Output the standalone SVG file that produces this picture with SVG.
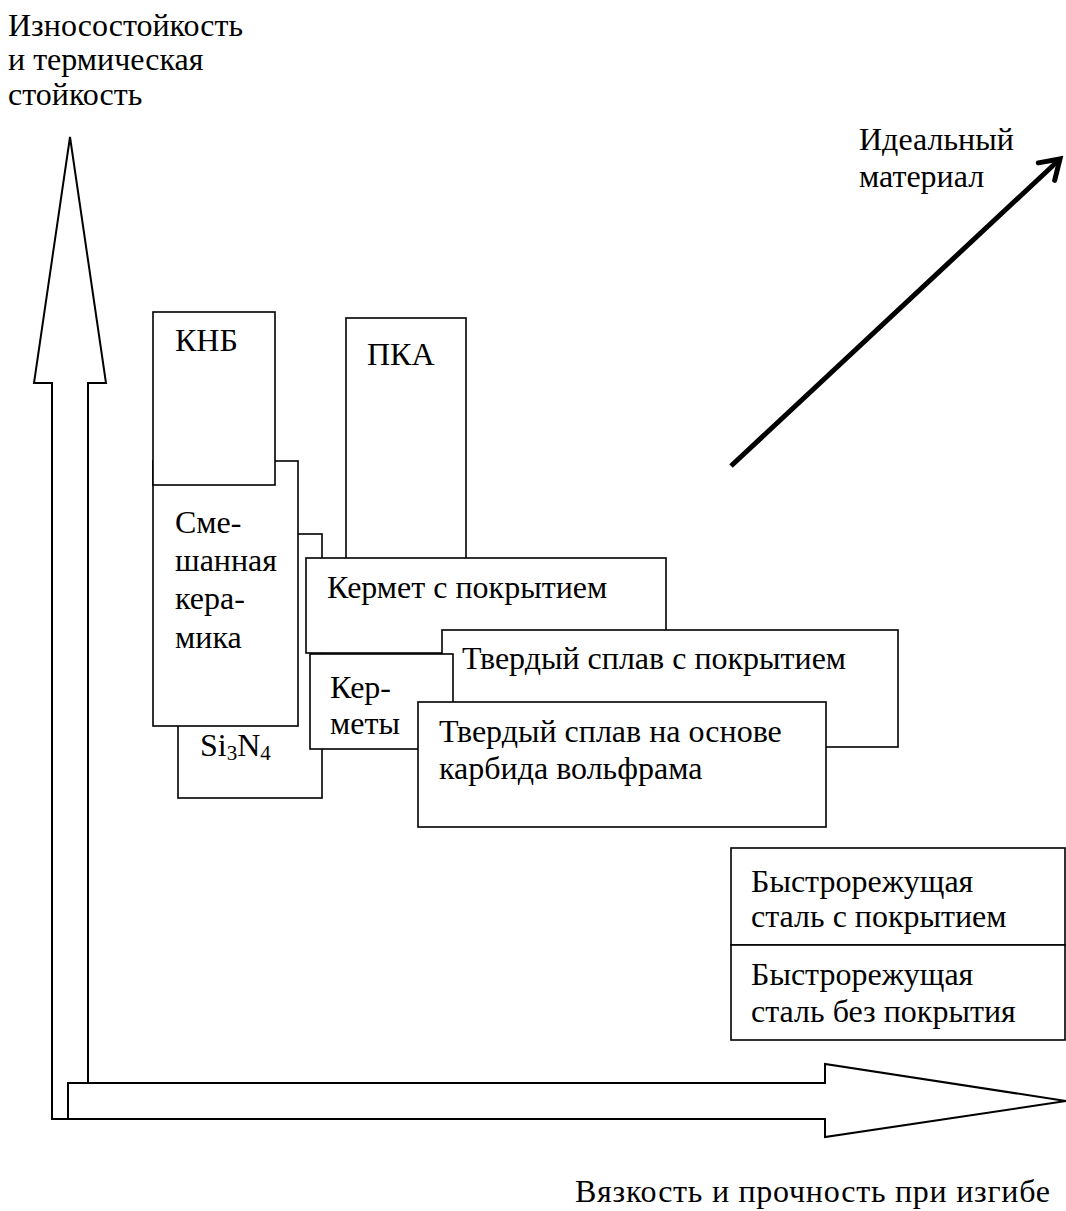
<svg xmlns="http://www.w3.org/2000/svg" width="1066" height="1211" viewBox="0 0 1066 1211">
<style>
 text { font-family: "Liberation Serif", "DejaVu Serif", serif; font-size: 32px; fill: #000; }
 .box { fill: #fff; stroke: #000; stroke-width: 1.6; }
 .axis { fill: #fff; stroke: #000; stroke-width: 2; stroke-linejoin: miter; }
 .conn { stroke: #000; stroke-width: 5; fill: none; }
</style>
<defs>
 <marker id="open" markerUnits="userSpaceOnUse" viewBox="-25 -16 30 32" refX="0" refY="0" markerWidth="30" markerHeight="32" orient="auto" overflow="visible">
  <path d="M -18.5 -12 L 0 0 L -18.5 12" fill="none" stroke="#000" stroke-width="5" stroke-linecap="round" stroke-linejoin="miter"/>
 </marker>
</defs>
<rect width="1066" height="1211" fill="#fff"/>

<g id="axis-y">
 <polygon class="axis" points="52,1119 52,383 34,383 70,137 106,383 88,383 88,1119"/>
 <text x="8" y="36">Износостойкость</text>
 <text x="8" y="70">и термическая</text>
 <text x="8" y="105">стойкость</text>
</g>
<g id="axis-x">
 <polygon class="axis" points="68,1083 825,1083 825,1064 1066,1101 825,1137 825,1119 68,1119"/>
 <text x="575" y="1202" textLength="475" lengthAdjust="spacing">Вязкость и прочность при изгибе</text>
</g>

<g id="si3n4">
 <rect class="box" x="178" y="534" width="144" height="264"/>
 <text x="200" y="756">Si<tspan font-size="21" dy="4">3</tspan><tspan dy="-4">N</tspan><tspan font-size="21" dy="4">4</tspan></text>
</g>
<g id="mixed-ceramics">
 <rect class="box" x="153" y="461" width="145" height="265"/>
 <text x="175" y="533">Сме-</text>
 <text x="175" y="571">шанная</text>
 <text x="175" y="609">кера-</text>
 <text x="175" y="648">мика</text>
</g>
<g id="cbn">
 <rect class="box" x="153" y="312" width="122" height="173"/>
 <text x="175" y="351">КНБ</text>
</g>
<g id="pcd">
 <rect class="box" x="346" y="318" width="120" height="260"/>
 <text x="367" y="365">ПКА</text>
</g>
<g id="coated-cermet">
 <rect class="box" x="306" y="558" width="360" height="95"/>
 <text x="327" y="598">Кермет с покрытием</text>
</g>
<g id="coated-carbide">
 <rect class="box" x="442" y="630" width="456" height="117"/>
 <text x="462" y="669">Твердый сплав с покрытием</text>
</g>
<g id="cermets">
 <rect class="box" x="310" y="654" width="143" height="95"/>
 <text x="330" y="698">Кер-</text>
 <text x="330" y="734">меты</text>
</g>
<g id="wc-carbide">
 <rect class="box" x="418" y="702" width="408" height="125"/>
 <text x="439" y="742">Твердый сплав на основе</text>
 <text x="439" y="779">карбида вольфрама</text>
</g>
<g id="hss-coated">
 <rect class="box" x="731" y="848" width="334" height="97"/>
 <text x="751" y="892">Быстрорежущая</text>
 <text x="751" y="927">сталь с покрытием</text>
</g>
<g id="hss-uncoated">
 <rect class="box" x="731" y="945" width="334" height="95"/>
 <text x="751" y="985">Быстрорежущая</text>
 <text x="751" y="1022">сталь без покрытия</text>
</g>
<g id="ideal-label">
 <text x="859" y="150">Идеальный</text>
 <text x="859" y="187">материал</text>
</g>

<g id="connectors">
 <line class="conn" x1="731" y1="466" x2="1060" y2="159" marker-end="url(#open)"/>
</g>
</svg>
